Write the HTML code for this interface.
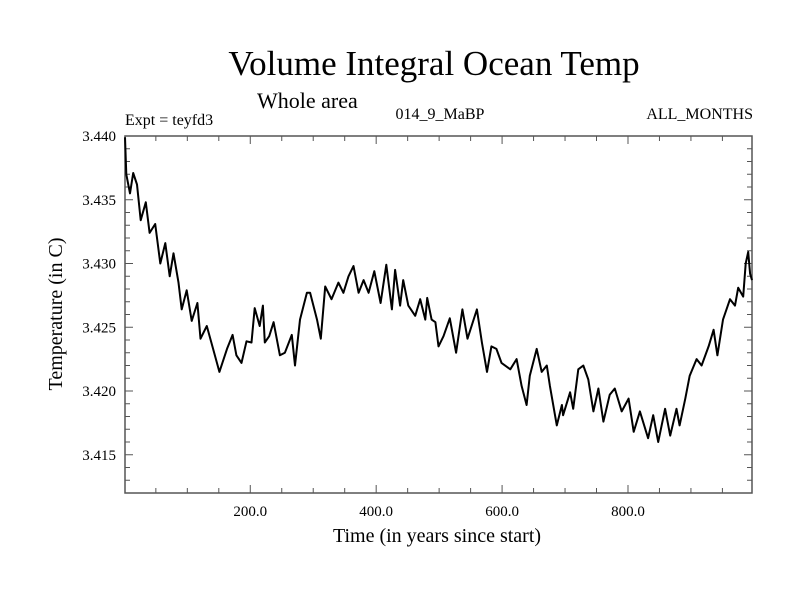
<!DOCTYPE html>
<html><head><meta charset="utf-8"><style>
body{margin:0;background:#fff}
svg{display:block;font-family:"Liberation Serif",serif}
</style></head><body>
<svg id="chart" width="800" height="600">
<text x="434" y="75" font-size="35" text-anchor="middle">Volume Integral Ocean Temp</text>
<text x="257" y="108" font-size="22">Whole area</text>
<text x="125" y="125" font-size="16">Expt = teyfd3</text>
<text x="440" y="119" font-size="16" text-anchor="middle">014_9_MaBP</text>
<text x="753" y="119" font-size="16" text-anchor="end">ALL_MONTHS</text>
<text transform="translate(62,314) rotate(-90)" font-size="20" text-anchor="middle">Temperature (in C)</text>
<text x="437" y="542" font-size="20" text-anchor="middle">Time (in years since start)</text>
<g id="axes"></g>
<g id="series"></g>
</svg>
<script>
const years=[1,3,9,14,20,26,34,40,49,57,65,72,78,86,91,99,107,116,121,131,141,151,163,172,178,186,194,202,207,215,220,223,230,237,247,255,266,271,279,290,295,306,312,319,329,340,348,356,364,372,380,388,397,407,416,425,430,438,443,451,462,470,478,481,488,494,499,507,517,527,537,545,560,568,576,583,591,599,613,623,631,639,644,655,663,671,676,687,695,697,708,713,721,729,737,745,753,761,771,779,790,801,809,819,832,840,848,859,867,877,882,891,898,909,917,928,936,942,951,962,970,975,983,987,991,994,997];
const temps=[3.4399,3.4370,3.4355,3.4371,3.4362,3.4334,3.4348,3.4324,3.4331,3.4300,3.4316,3.4290,3.4308,3.4285,3.4264,3.4279,3.4255,3.4269,3.4241,3.4251,3.4233,3.4215,3.4233,3.4244,3.4228,3.4222,3.4239,3.4238,3.4265,3.4251,3.4267,3.4238,3.4243,3.4254,3.4228,3.4230,3.4244,3.4220,3.4256,3.4277,3.4277,3.4256,3.4241,3.4282,3.4272,3.4285,3.4277,3.4290,3.4298,3.4277,3.4287,3.4277,3.4294,3.4269,3.4299,3.4264,3.4295,3.4267,3.4287,3.4267,3.4259,3.4272,3.4256,3.4273,3.4256,3.4254,3.4235,3.4243,3.4257,3.4230,3.4264,3.4241,3.4264,3.4238,3.4215,3.4235,3.4233,3.4222,3.4217,3.4225,3.4204,3.4189,3.4212,3.4233,3.4215,3.4220,3.4204,3.4173,3.4189,3.4181,3.4199,3.4186,3.4217,3.4220,3.4209,3.4184,3.4202,3.4176,3.4197,3.4202,3.4184,3.4194,3.4168,3.4184,3.4163,3.4181,3.4160,3.4186,3.4165,3.4186,3.4173,3.4194,3.4212,3.4225,3.4220,3.4235,3.4248,3.4228,3.4256,3.4272,3.4267,3.4281,3.4274,3.4300,3.4309,3.4292,3.4287];
const xTicks=[200,400,600,800];
const xTickLabels=["200.0","400.0","600.0","800.0"];
const yTicks=[3.415,3.420,3.425,3.430,3.435,3.440];
const yTickLabels=["3.415","3.420","3.425","3.430","3.435","3.440"];
const L=125,R=752,T=136,B=493,X0=1,X1=997,Y0=3.4120,Y1=3.4400;
const sx=v=>L+(v-X0)/(X1-X0)*(R-L);
const sy=v=>B-(v-Y0)/(Y1-Y0)*(B-T);
const NS="http://www.w3.org/2000/svg";
const ax=document.getElementById('axes');
function mk(tag,at,parent){const e=document.createElementNS(NS,tag);for(const k in at)e.setAttribute(k,at[k]);parent.appendChild(e);return e;}
const fr=mk('rect',{x:L,y:T,width:R-L,height:B-T,fill:'none',stroke:'#555','stroke-width':1.5},ax);


for(let t=50;t<X1;t+=50){const x=sx(t);const len=(t%200===0)?8:5;
 mk('line',{x1:x,x2:x,y1:B,y2:B-len,stroke:'#555'},ax);
 mk('line',{x1:x,x2:x,y1:T,y2:T+len,stroke:'#555'},ax);}
for(let i=0;i<=28;i++){const v=3.413+i*0.001;if(v>Y1+1e-9)break;const y=sy(v);const maj=(Math.round(v*1000)%5===0);const len=maj?8:5;
 mk('line',{x1:L,x2:L+len,y1:y,y2:y,stroke:'#555'},ax);
 mk('line',{x1:R,x2:R-len,y1:y,y2:y,stroke:'#555'},ax);}
xTicks.forEach((t,i)=>{const e=mk('text',{x:sx(t),y:516,'font-size':15,'text-anchor':'middle'},ax);e.textContent=xTickLabels[i];
 
 });
yTicks.forEach((v,i)=>{const e=mk('text',{x:116,y:sy(v)+5,'font-size':15,'text-anchor':'end'},ax);e.textContent=yTickLabels[i];
 
 });
const d=years.map((t,i)=>(i?'L':'M')+sx(t).toFixed(1)+','+sy(temps[i]).toFixed(1)).join('');
const p=mk('path',{d:d,fill:'none',stroke:'#000','stroke-width':2,'stroke-linejoin':'round'},document.getElementById('series'));


</script>
</body></html>
